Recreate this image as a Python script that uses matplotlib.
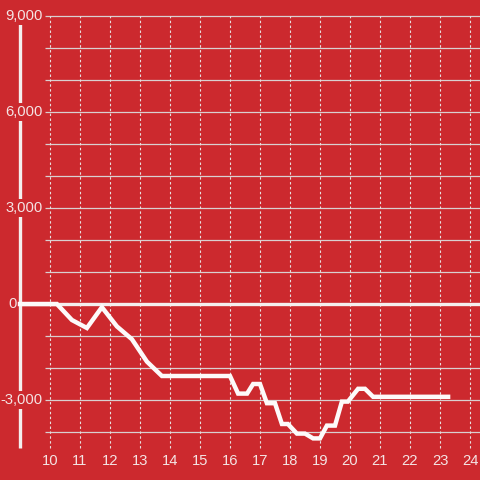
import matplotlib
matplotlib.use("Agg")
import matplotlib.pyplot as plt

# Data
hours = [9.0, 10.23, 10.73, 11.23, 11.73, 12.23, 12.73, 13.23, 13.73, 16.0, 16.27,
         16.57, 16.77, 17.0, 17.23, 17.5, 17.73, 17.93, 18.23, 18.5, 18.77, 19.0,
         19.23, 19.5, 19.73, 19.93, 20.27, 20.5, 20.77, 23.27]
values = [0, 0, -500, -750, -100, -700, -1100, -1800, -2250, -2250, -2800,
          -2800, -2500, -2500, -3100, -3100, -3750, -3750, -4050, -4050, -4200, -4200,
          -3800, -3800, -3050, -3050, -2650, -2650, -2900, -2900]
x_ticks = list(range(10, 25))
y_ticks = [9000, 6000, 3000, 0, -3000]
y_tick_labels = ["9,000", "6,000", "3,000", "0", "-3,000"]
y_grid = [v for v in range(-4000, 10000, 1000) if v != 0]

BG = "#cc292e"
FG = "#f4e4e4"
px = 1 / 30.0  # x units per pixel
py = 1000 / 32.0  # y units per pixel

fig = plt.figure(figsize=(4.8, 4.8), dpi=100, facecolor=BG)
ax = fig.add_axes([0, 0, 1, 1], facecolor=BG)
x0 = 9 - 20 * px
ax.set_xlim(x0, x0 + 480 * px)
ax.set_ylim(-5500, 9500)
ax.axis("off")

# horizontal grid
ax.hlines(y_grid, x0 + 45 * px, x0 + 480 * px, colors="#d9d0d0", lw=0.9, zorder=1)
# vertical dashed grid
ax.vlines(x_ticks, -4500, 9000, colors="#e8dede", lw=0.8, linestyles=(0, (2.2, 2.2)), zorder=1)
# y spine
ax.vlines([9.0], -4500, 9000, colors="#f4eeee", lw=2.4, zorder=2)
# zero line
ax.hlines([0], x0 + 18 * px, x0 + 480 * px, colors="#f4eeee", lw=2.4, zorder=3)

# data
ax.plot(hours, values, color="#fdfafa", lw=3.2, solid_joinstyle="miter", zorder=4)

font = "Liberation Sans"
fs = 10.6
for v, lab in zip(y_ticks, y_tick_labels):
    if v == 0:
        ax.text(x0 + 8 * px, v, lab, ha="left", va="center", color=FG,
                fontsize=fs, family=font, zorder=5)
    else:
        ax.text(x0 + 43 * px, v, lab, ha="right", va="center", color=FG,
                fontsize=fs, family=font, zorder=5,
                bbox=dict(facecolor=BG, edgecolor="none", pad=1.2))
for t in x_ticks:
    ax.text(t, -(461 - 304) * py, str(t), ha="center", va="center", color=FG,
            fontsize=fs, family=font, zorder=5)

fig.savefig("out.png", dpi=100, facecolor=BG)
